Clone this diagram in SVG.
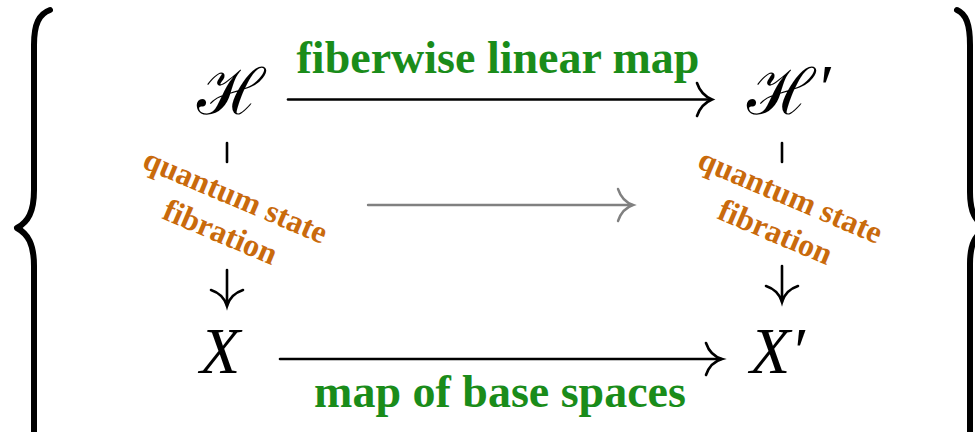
<svg xmlns="http://www.w3.org/2000/svg" width="975" height="432" viewBox="0 0 975 432">
<style>
.brace{fill:none;stroke:#000;stroke-width:6;stroke-linecap:round;stroke-linejoin:round}
.ar{fill:none;stroke:#000;stroke-width:2.6;stroke-linecap:round}
.gr{fill:none;stroke:#808080;stroke-width:2.4;stroke-linecap:round}
.math{font-family:"Liberation Serif","Times New Roman",serif;font-style:italic;font-size:66px;fill:#000}
.cal{font-family:"Liberation Serif",serif;font-size:64px;fill:#000}
.lbl{font-family:"Liberation Serif","Times New Roman",serif;font-weight:bold;font-size:46px;fill:#1a8c1a;text-anchor:middle}
.fib{font-family:"Liberation Serif","Times New Roman",serif;font-weight:bold;font-size:32px;fill:#c96a0c;text-anchor:middle}
</style>
<g id="braces">
<path class="brace" d="M50,10 C39,14 34,24 34,45 L34,190 C34,212 28,222 17,228 C28,234 34,244 34,266 L34,445"/>
<path class="brace" d="M957,10 C966,14 970,24 970,45 L970,192 C970,212 975,222 988,228 C975,234 970,244 970,264 L970,445"/>
</g>
<g id="node-H"><text class="cal" x="197" y="114">ℋ</text></g>
<g id="node-Hp"><text class="cal" x="747" y="114">ℋ</text><text class="math" x="816" y="110">′</text></g>
<g id="node-X"><text class="math" x="200" y="373">X</text></g>
<g id="node-Xp"><text class="math" x="750" y="373">X′</text></g>
<g id="connectors">
<line class="ar" x1="288" y1="99.5" x2="711" y2="99.5"/>
<path class="ar" d="M697,83 C700,92 706,97 712,99.5 C706,102 700,107 697,116"/>
<line class="ar" x1="280" y1="359" x2="721" y2="359"/>
<path class="ar" d="M706,343 C709,352 715,357 722,359 C715,361 709,366 706,375"/>
<line class="gr" x1="368" y1="205" x2="632" y2="205"/>
<path class="gr" d="M618,189 C621,198 627,203 633,205 C627,207 621,212 618,221"/>
<line class="ar" x1="227" y1="143" x2="227" y2="162"/>
<line class="ar" x1="227" y1="270" x2="227" y2="306"/>
<path class="ar" d="M211,290 C220,293 225,299 227,306 C229,299 234,293 243,290"/>
<line class="ar" x1="782" y1="143" x2="782" y2="162"/>
<line class="ar" x1="782" y1="266" x2="782" y2="302"/>
<path class="ar" d="M766,286 C775,289 780,295 782,302 C784,295 789,289 798,286"/>
</g>
<g id="label-top"><text class="lbl" x="498" y="73">fiberwise linear map</text></g>
<g id="label-bottom"><text class="lbl" x="500" y="407">map of base spaces</text></g>
<g id="label-left" transform="translate(228,214) rotate(23)">
<text class="fib" x="0" y="-9">quantum state</text>
<text class="fib" x="0" y="30">fibration</text>
</g>
<g id="label-right" transform="translate(783,214) rotate(23)">
<text class="fib" x="0" y="-9">quantum state</text>
<text class="fib" x="0" y="30">fibration</text>
</g>
</svg>
